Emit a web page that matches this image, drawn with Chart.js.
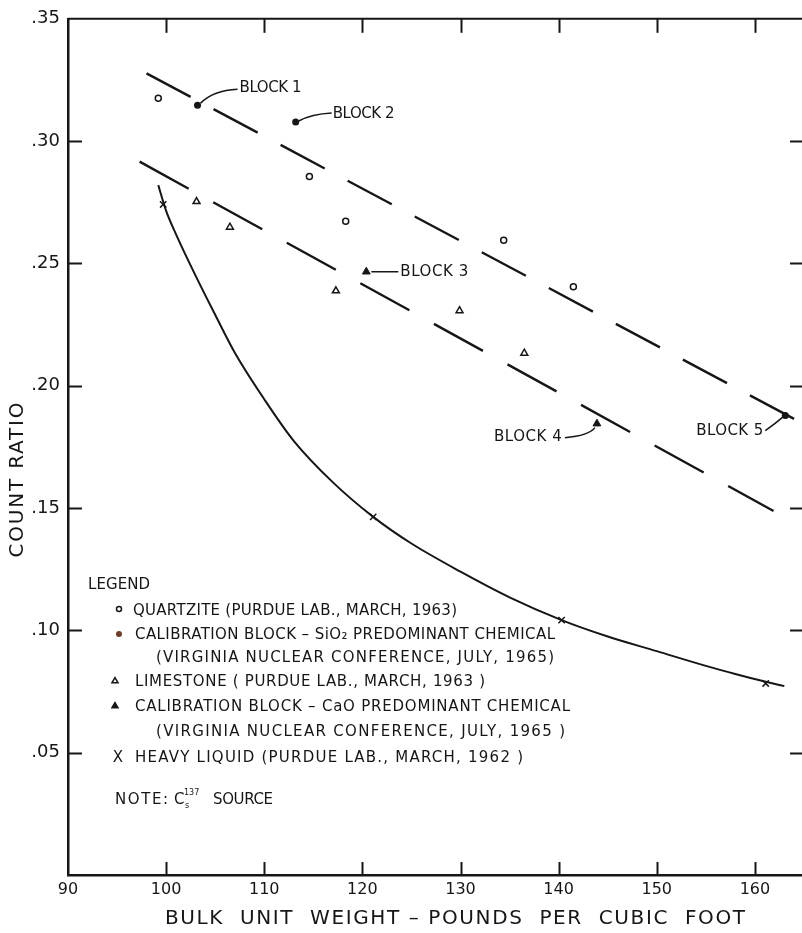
<!DOCTYPE html>
<html><head><meta charset="utf-8">
<script src="https://cdn.jsdelivr.net/npm/chart.js@4.4.1/dist/chart.umd.min.js"></script>
<style>html,body{margin:0;padding:0;background:#fff;overflow:hidden}canvas{display:block}</style>
</head><body>
<canvas id="c" width="802" height="933"></canvas>
<script>
// ---- data ----
const xLabelValues = [90, 100, 110, 120, 130, 140, 150, 160];
const xTickValues = [100, 110, 120, 130, 140, 150, 160];
const yTickValues = [0.05, 0.10, 0.15, 0.20, 0.25, 0.30];

const quartziteX = [99.2, 114.6, 118.3, 134.4, 141.5];
const quartziteY = [0.3175, 0.2855, 0.2672, 0.2595, 0.2405];

const sio2BlockX = [103.2, 113.2, 163.1];
const sio2BlockY = [0.3147, 0.3078, 0.1878];
const sio2BlockLabels = ['BLOCK 1', 'BLOCK 2', 'BLOCK 5'];

const limestoneX = [103.1, 106.5, 117.3, 129.9, 136.5];
const limestoneY = [0.2753, 0.2648, 0.2388, 0.2307, 0.2133];

const caoBlockX = [120.4, 143.9];
const caoBlockY = [0.2466, 0.1845];
const caoBlockLabels = ['BLOCK 3', 'BLOCK 4'];

const heavyX = [99.7, 121.1, 140.3, 161.1];
const heavyY = [0.2741, 0.1464, 0.1042, 0.0783];

const heavyCurveX = [99.2, 100, 101, 103, 105, 107, 110, 113, 117, 121.1, 125, 130, 135, 140.3, 145, 150, 155, 158, 161.1, 163];
const heavyCurveY = [0.282, 0.2715, 0.262, 0.245, 0.229, 0.2135, 0.1945, 0.1775, 0.1605, 0.1464, 0.1355, 0.124, 0.1135, 0.1042, 0.0975, 0.0915, 0.0855, 0.0822, 0.079, 0.0772];

const upperFitX = [98.0, 164.8];
const upperFitY = [0.3277, 0.1847];
const lowerFitX = [97.3, 161.9];
const lowerFitY = [0.2916, 0.1488];

const xTitle = 'BULK  UNIT  WEIGHT – POUNDS  PER  CUBIC  FOOT';
const yTitle = 'COUNT RATIO';

const legendTitle = 'LEGEND';
const legendRows = [
  'QUARTZITE (PURDUE LAB., MARCH, 1963)',
  'CALIBRATION BLOCK – SiO₂ PREDOMINANT CHEMICAL',
  '(VIRGINIA NUCLEAR CONFERENCE, JULY, 1965)',
  'LIMESTONE ( PURDUE LAB., MARCH, 1963 )',
  'CALIBRATION BLOCK – CaO PREDOMINANT CHEMICAL',
  '(VIRGINIA NUCLEAR CONFERENCE, JULY, 1965 )',
  'HEAVY LIQUID (PURDUE LAB., MARCH, 1962 )'
];

// ---- helpers ----
const FONT = "'DejaVu Sans', 'Liberation Sans', sans-serif";
const INK = '#161616';
const pts = (xs, ys) => xs.map((x, i) => ({x, y: ys[i]}));

function fitText(ctx, str, x, y, size, target, align) {
  ctx.save();
  ctx.font = size + 'px ' + FONT;
  ctx.textBaseline = 'middle';
  ctx.textAlign = 'left';
  ctx.fillStyle = INK;
  const w = ctx.measureText(str).width;
  let ls = 0;
  if (target && str.length > 1 && ('letterSpacing' in ctx)) {
    ls = (target - w) / (str.length - 1);
    ctx.letterSpacing = ls + 'px';
  }
  const total = w + ls * (str.length - 1);
  let sx = x;
  if (align === 'center') sx = x - total / 2;
  else if (align === 'right') sx = x - total;
  ctx.fillText(str, sx, y);
  if ('letterSpacing' in ctx) ctx.letterSpacing = '0px';
  ctx.restore();
}

const framePlugin = {
  id: 'frame',
  afterDraw(chart) {
    const ctx = chart.ctx;
    const a = chart.chartArea;
    const xs = chart.scales.x, ys = chart.scales.y;
    ctx.save();
    ctx.strokeStyle = INK;
    ctx.fillStyle = INK;
    ctx.lineCap = 'butt';
    // top border
    ctx.lineWidth = 2;
    ctx.beginPath(); ctx.moveTo(a.left, a.top); ctx.lineTo(a.right, a.top); ctx.stroke();
    // inward tick marks
    xTickValues.forEach(v => {
      const px = Math.round(xs.getPixelForValue(v)) + 0.5;
      ctx.beginPath(); ctx.moveTo(px, a.bottom); ctx.lineTo(px, a.bottom - 13); ctx.stroke();
      ctx.beginPath(); ctx.moveTo(px, a.top); ctx.lineTo(px, a.top + 14); ctx.stroke();
    });
    yTickValues.forEach(v => {
      const py = Math.round(ys.getPixelForValue(v)) + 0.5;
      ctx.beginPath(); ctx.moveTo(a.left, py); ctx.lineTo(a.left + 14, py); ctx.stroke();
      ctx.beginPath(); ctx.moveTo(a.right, py); ctx.lineTo(a.right - 12, py); ctx.stroke();
    });
    // axis titles
    fitText(ctx, xTitle, 455, 919, 20, 580, 'center');
    ctx.save();
    ctx.translate(18, 480);
    ctx.rotate(-Math.PI / 2);
    fitText(ctx, yTitle, 0, 0, 20, 155, 'center');
    ctx.restore();

    // legend
    fitText(ctx, legendTitle, 88, 585, 15, 62, 'left');
    const rowY = [611, 635, 658, 682, 707, 732, 758];
    const rowX = [133, 135, 156, 135, 135, 156, 135];
    const rowW = [324, 420, 398, 350, 435, 409, 388];
    legendRows.forEach((t, i) => fitText(ctx, t, rowX[i], rowY[i], 15, rowW[i], 'left'));
    const H = Chart.helpers;
    ctx.lineWidth = 1.5;
    ctx.fillStyle = '#fff'; ctx.strokeStyle = INK;
    H.drawPoint(ctx, {pointStyle: 'circle', radius: 2.5, borderWidth: 1.5, rotation: 0}, 119, 609);
    ctx.fillStyle = '#6e3b26'; ctx.strokeStyle = '#6e3b26';
    H.drawPoint(ctx, {pointStyle: 'circle', radius: 3, borderWidth: 0, rotation: 0}, 119, 634);
    ctx.fillStyle = '#fff'; ctx.strokeStyle = INK;
    H.drawPoint(ctx, {pointStyle: 'triangle', radius: 3.5, borderWidth: 1.5, rotation: 0}, 115, 681);
    ctx.fillStyle = INK;
    H.drawPoint(ctx, {pointStyle: 'triangle', radius: 3.5, borderWidth: 1, rotation: 0}, 115, 706);
    fitText(ctx, 'X', 118, 758, 15, 0, 'center');
    // note with Cs-137
    fitText(ctx, 'NOTE:', 115, 800, 15, 53, 'left');
    fitText(ctx, 'C', 174, 800, 15, 0, 'left');
    fitText(ctx, '137', 184, 793, 8, 0, 'left');
    fitText(ctx, 's', 185, 806, 8, 0, 'left');
    fitText(ctx, 'SOURCE', 213, 800, 15, 60, 'left');

    // block annotations, anchored to their points
    const blocks = [
      {x: sio2BlockX[0], y: sio2BlockY[0], t: sio2BlockLabels[0], tx: 42, ty: -17, tw: 62, path: [[3, -2], [16, -15], [40, -16]]},
      {x: sio2BlockX[1], y: sio2BlockY[1], t: sio2BlockLabels[1], tx: 37, ty: -8, tw: 62, path: [[3, -1], [16, -8], [36, -9]]},
      {x: caoBlockX[0], y: caoBlockY[0], t: caoBlockLabels[0], tx: 34, ty: 0, tw: 68, path: [[5, 0], [18, 0], [32, 0]]},
      {x: caoBlockX[1], y: caoBlockY[1], t: caoBlockLabels[1], tx: -103, ty: 13, tw: 68, path: [[-2, 4], [-8, 12], [-32, 14]]},
      {x: sio2BlockX[2], y: sio2BlockY[2], t: sio2BlockLabels[2], tx: -89, ty: 16, tw: 67, path: [[-2, 1], [-10, 8], [-20, 15]]}
    ];
    ctx.strokeStyle = INK; ctx.lineWidth = 1.5;
    blocks.forEach(b => {
      const px = xs.getPixelForValue(b.x), py = ys.getPixelForValue(b.y);
      const p = b.path;
      ctx.beginPath();
      ctx.moveTo(px + p[0][0], py + p[0][1]);
      ctx.quadraticCurveTo(px + p[1][0], py + p[1][1], px + p[2][0], py + p[2][1]);
      ctx.stroke();
      fitText(ctx, b.t, px + b.tx, py + b.ty, 15, b.tw, 'left');
    });
    ctx.restore();
  }
};

new Chart(document.getElementById('c'), {
  type: 'scatter',
  data: {
    datasets: [
      {label: 'Quartzite', data: pts(quartziteX, quartziteY), pointStyle: 'circle', pointRadius: 3, borderWidth: 1.5, borderColor: INK, backgroundColor: '#fff'},
      {label: 'Calibration block SiO2', data: pts(sio2BlockX, sio2BlockY), pointStyle: 'circle', pointRadius: 3.5, borderWidth: 0, borderColor: INK, backgroundColor: INK},
      {label: 'Limestone', data: pts(limestoneX, limestoneY), pointStyle: 'triangle', pointRadius: 4, borderWidth: 1.5, borderColor: INK, backgroundColor: '#fff'},
      {label: 'Calibration block CaO', data: pts(caoBlockX, caoBlockY), pointStyle: 'triangle', pointRadius: 4.5, borderWidth: 1, borderColor: INK, backgroundColor: INK},
      {label: 'Heavy liquid', data: pts(heavyX, heavyY), pointStyle: 'crossRot', pointRadius: 4.5, borderWidth: 1.5, borderColor: INK, backgroundColor: INK},
      {label: 'Heavy liquid curve', data: pts(heavyCurveX, heavyCurveY), showLine: true, pointRadius: 0, borderColor: INK, borderWidth: 2, cubicInterpolationMode: 'monotone'},
      {label: 'Upper fit', data: pts(upperFitX, upperFitY), showLine: true, pointRadius: 0, borderColor: INK, borderWidth: 2.4, borderDash: [50, 26]},
      {label: 'Lower fit', data: pts(lowerFitX, lowerFitY), showLine: true, pointRadius: 0, borderColor: INK, borderWidth: 2.4, borderDash: [56, 28]}
    ]
  },
  options: {
    responsive: false,
    animation: false,
    devicePixelRatio: 1,
    layout: {autoPadding: false, padding: {top: 12, right: 0, bottom: 0, left: 0}},
    plugins: {legend: {display: false}, tooltip: {enabled: false}},
    scales: {
      x: {
        type: 'linear', min: 90, max: 164.8,
        afterBuildTicks: s => { s.ticks = xLabelValues.map(v => ({value: v})); },
        afterFit: s => { s.height = 58; s.paddingRight = 0; s.paddingLeft = 0; },
        ticks: {color: INK, font: {family: FONT, size: 16}, padding: 5, maxRotation: 0, autoSkip: false},
        grid: {display: false, drawTicks: false},
        border: {display: true, color: INK, width: 2.5}
      },
      y: {
        type: 'linear', min: 0, max: 0.35,
        afterFit: s => { s.width = 68; },
        ticks: {stepSize: 0.05, color: INK, font: {family: FONT, size: 18}, padding: 8,
          callback: v => (Math.abs(v) < 1e-9 ? '' : Number(v).toFixed(2).replace(/^0/, ''))},
        grid: {display: false, drawTicks: false},
        border: {display: true, color: INK, width: 2.5}
      }
    }
  },
  plugins: [framePlugin]
});
</script>
</body></html>
